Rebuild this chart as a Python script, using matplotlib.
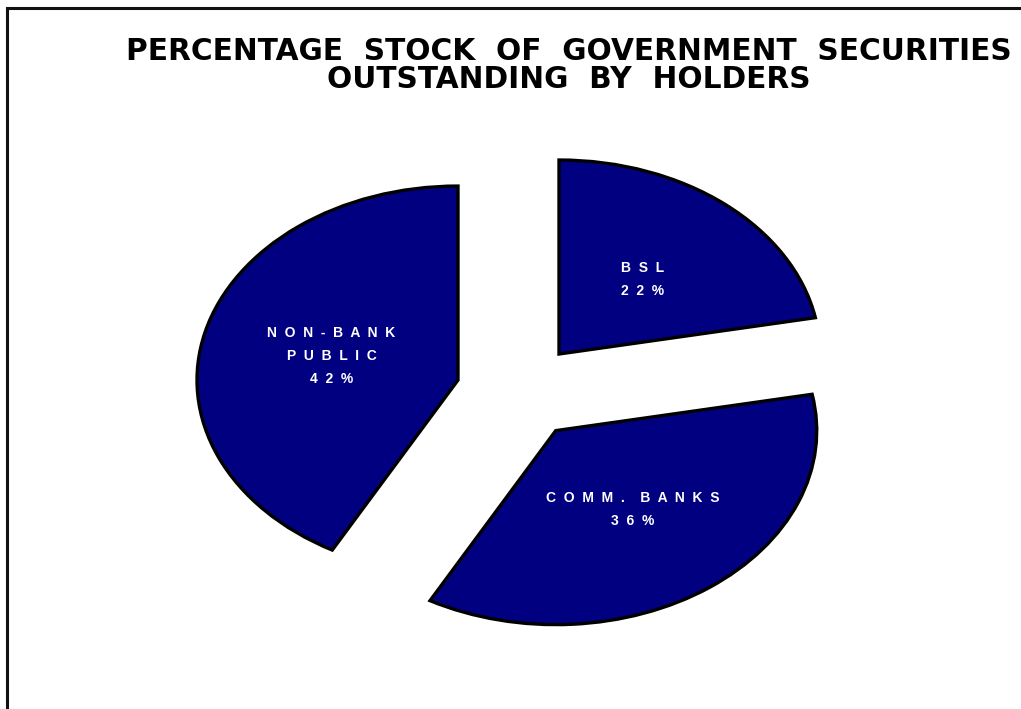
import matplotlib.pyplot as plt
from matplotlib.patches import Rectangle

# data
labels = ["BSL", "COMM. BANKS", "NON-BANK\nPUBLIC"]
shares = [22, 36, 42]
explode = [0.25, 0.25, 0.235]
slice_color = "#000080"


def spaced(txt, gap="  "):
    # spread the letters out like the original labels
    lines = []
    for line in txt.split("\n"):
        words = [gap.join(w) for w in line.split(" ")]
        lines.append((gap * 2).join(words))
    return "\n".join(lines)


pie_labels = [spaced(l) + "\n" + spaced(f"{v}%") for l, v in zip(labels, shares)]

W, H = 1021, 709
fig = plt.figure(figsize=(W / 100, H / 100), dpi=100)
fig.patch.set_facecolor("white")

# frame (only left and top edges are visible in the original)
fig.patches.append(Rectangle((7 / W, -0.1), 1.2, (H - 8) / H + 0.1,
                             transform=fig.transFigure, fill=False,
                             edgecolor="#111111", linewidth=2.2))

ax = fig.add_axes([0, 0, 1, 1])
ax.pie(shares, explode=explode, labels=pie_labels, labeldistance=0.5,
       startangle=90, counterclock=False, colors=[slice_color] * 3,
       wedgeprops=dict(edgecolor="black", linewidth=2.4),
       textprops=dict(color="white", fontsize=10, fontweight="bold",
                      family="Liberation Sans", ha="center", va="center",
                      linespacing=1.8))

# elliptical pie: 1 unit = 261 px in x, 194 px in y
rx, ry = 261, 194
cx, cy = 517.4, H - 391.4
ax.set_aspect("auto")
ax.set_xlim(-cx / rx, (W - cx) / rx)
ax.set_ylim(-cy / ry, (H - cy) / ry)
ax.axis("off")

fig.text(569 / W, 1 - 52 / H, "PERCENTAGE  STOCK  OF  GOVERNMENT  SECURITIES",
         ha="center", va="center", fontsize=21.3, fontweight="bold",
         family="DejaVu Sans")
fig.text(569 / W, 1 - 79.5 / H, "OUTSTANDING  BY  HOLDERS",
         ha="center", va="center", fontsize=21.3, fontweight="bold",
         family="DejaVu Sans")

fig.savefig("out.png", dpi=100)
